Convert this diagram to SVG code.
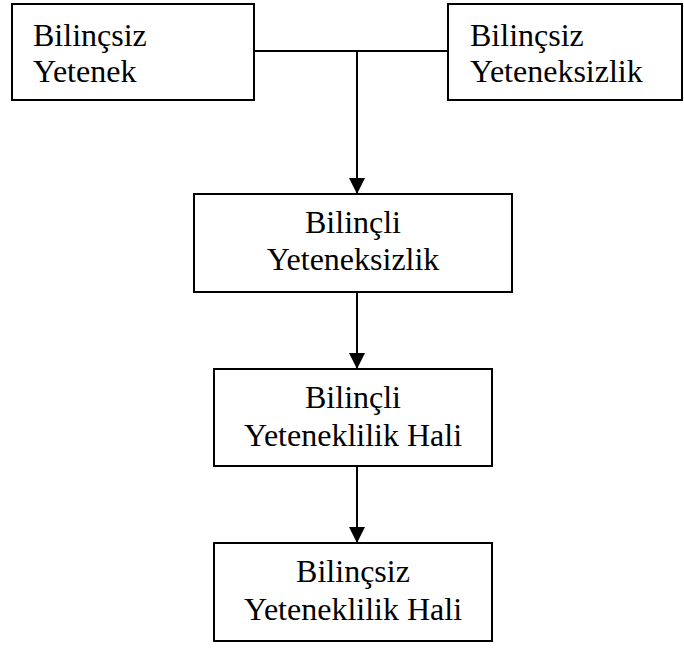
<svg xmlns="http://www.w3.org/2000/svg" width="684" height="648" viewBox="0 0 684 648">
<defs>
<style>
.box{fill:#fff;stroke:#000;stroke-width:2}
.t{font-family:"Liberation Serif","Times New Roman",serif;font-size:32px;fill:#000}
.c{text-anchor:middle}
.ln{fill:none;stroke:#000;stroke-width:2}
</style>
<marker id="ah" viewBox="0 0 16 16" refX="16" refY="8" markerWidth="16" markerHeight="16" markerUnits="userSpaceOnUse" orient="auto">
<path d="M0,0 L16,8 L0,16 Z" fill="#000"/>
</marker>
</defs>
<rect width="684" height="648" fill="#fff"/>
<g id="connectors">
<path class="ln" d="M254,51 H448"/>
<path class="ln" d="M357,51 V194" marker-end="url(#ah)"/>
<path class="ln" d="M357,292 V369" marker-end="url(#ah)"/>
<path class="ln" d="M357,466 V543" marker-end="url(#ah)"/>
</g>
<g id="n1">
<rect class="box" x="12" y="4" width="242" height="96"/>
<text class="t" x="33" y="46">Bilinçsiz</text>
<text class="t" x="33" y="82">Yetenek</text>
</g>
<g id="n2">
<rect class="box" x="448" y="4" width="234" height="96"/>
<text class="t" x="470" y="46">Bilinçsiz</text>
<text class="t" x="470" y="82">Yeteneksizlik</text>
</g>
<g id="n3">
<rect class="box" x="194" y="194" width="318" height="98"/>
<text class="t c" x="353" y="233">Bilinçli</text>
<text class="t c" x="353" y="270">Yeteneksizlik</text>
</g>
<g id="n4">
<rect class="box" x="214" y="369" width="278" height="97"/>
<text class="t c" x="353" y="408">Bilinçli</text>
<text class="t c" x="353" y="446">Yeteneklilik Hali</text>
</g>
<g id="n5">
<rect class="box" x="214" y="543" width="278" height="98"/>
<text class="t c" x="353" y="582">Bilinçsiz</text>
<text class="t c" x="353" y="620">Yeteneklilik Hali</text>
</g>
</svg>
